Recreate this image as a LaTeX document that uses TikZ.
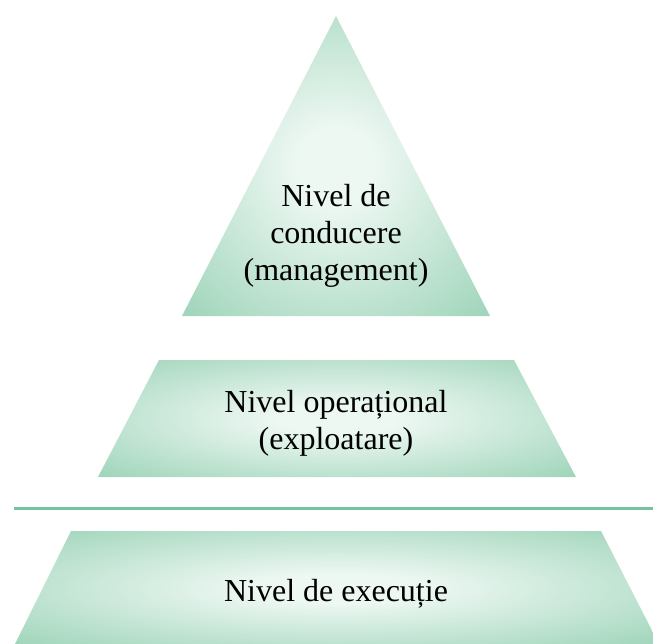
\documentclass[tikz,border=0pt]{standalone}
\usepackage{fontspec}
\setmainfont{Liberation Serif}
\definecolor{pyredge}{RGB}{162,214,188}
\definecolor{pyrcenter}{RGB}{238,248,243}
\definecolor{sepline}{RGB}{118,196,158}
\pgfdeclareradialshading{pyrshade}{\pgfpoint{0bp}{0bp}}{%
  color(0bp)=(pyrcenter); color(6bp)=(pyrcenter); color(34bp)=(pyredge); color(50bp)=(pyredge)}
\tikzset{
  level/.style={shading=pyrshade, draw=none},
  leveltext/.style={font=\fontsize{32}{37}\selectfont, align=center, text=black, inner sep=0pt},
  separator/.style={draw=sepline, line width=3pt}
}
\begin{document}
\begin{tikzpicture}[x=1pt,y=-1pt]
\useasboundingbox (0,0) rectangle (653,644);
% levels
\shade[level] (336,16) -- (490,316) -- (182,316) -- cycle;
\shade[level] (159,360) -- (514,360) -- (576,477) -- (98,477) -- cycle;
\begin{scope}
\clip (0,0) rectangle (653,644);
\shade[level] (71,531) -- (601,531) -- (660,646) -- (14,646) -- cycle;
\end{scope}
% separator
\coordinate (sepL) at (14,508);
\coordinate (sepR) at (653,508);
\draw[separator] (sepL) -- (sepR);
% texts
\node[leveltext] (top) at (336,236) {Nivel de\\conducere\\(management)};
\node[leveltext] (mid) at (336,423) {Nivel operațional\\(exploatare)};
\node[leveltext] (bot) at (336,594) {Nivel de execuție};
\end{tikzpicture}
\end{document}
